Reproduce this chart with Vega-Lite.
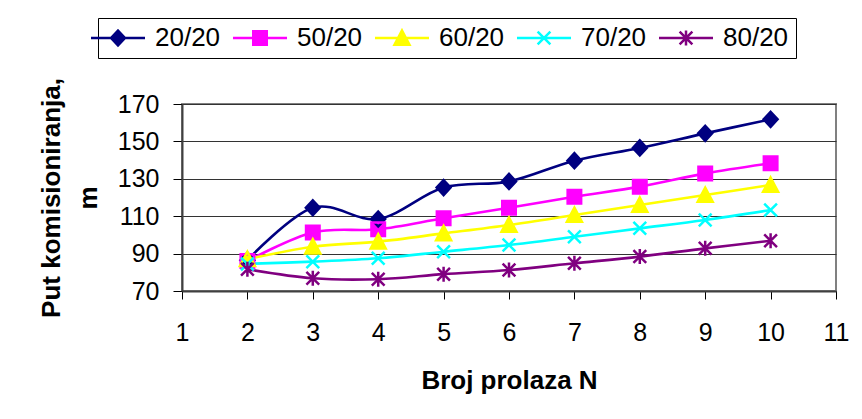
{
  "$schema": "https://vega.github.io/schema/vega-lite/v6.json",
  "width": 654,
  "height": 187,
  "autosize": {"type": "none"},
  "padding": {"left": 182, "top": 104, "right": 26, "bottom": 128},
  "background": "white",
  "config": {
    "font": "Liberation Sans",
    "view": {"stroke": "#808080", "strokeWidth": 2}
  },
  "data": {
    "values": [
      {"n": 2, "s": "20/20", "v": 86.5}, {"n": 3, "s": "20/20", "v": 114.5}, {"n": 4, "s": "20/20", "v": 108.5},
      {"n": 5, "s": "20/20", "v": 125.3}, {"n": 6, "s": "20/20", "v": 128.6}, {"n": 7, "s": "20/20", "v": 139.7},
      {"n": 8, "s": "20/20", "v": 146.5}, {"n": 9, "s": "20/20", "v": 154.3}, {"n": 10, "s": "20/20", "v": 161.8},
      {"n": 2, "s": "50/20", "v": 86.0}, {"n": 3, "s": "50/20", "v": 101.3}, {"n": 4, "s": "50/20", "v": 103.0},
      {"n": 5, "s": "50/20", "v": 108.9}, {"n": 6, "s": "50/20", "v": 114.5}, {"n": 7, "s": "50/20", "v": 120.4},
      {"n": 8, "s": "50/20", "v": 125.8}, {"n": 9, "s": "50/20", "v": 132.9}, {"n": 10, "s": "50/20", "v": 138.3},
      {"n": 2, "s": "60/20", "v": 87.0}, {"n": 3, "s": "60/20", "v": 93.7}, {"n": 4, "s": "60/20", "v": 96.4},
      {"n": 5, "s": "60/20", "v": 100.8}, {"n": 6, "s": "60/20", "v": 105.3}, {"n": 7, "s": "60/20", "v": 110.6},
      {"n": 8, "s": "60/20", "v": 116.0}, {"n": 9, "s": "60/20", "v": 121.3}, {"n": 10, "s": "60/20", "v": 126.7},
      {"n": 2, "s": "70/20", "v": 84.5}, {"n": 3, "s": "70/20", "v": 85.7}, {"n": 4, "s": "70/20", "v": 87.5},
      {"n": 5, "s": "70/20", "v": 91.0}, {"n": 6, "s": "70/20", "v": 94.6}, {"n": 7, "s": "70/20", "v": 99.0},
      {"n": 8, "s": "70/20", "v": 103.5}, {"n": 9, "s": "70/20", "v": 108.0}, {"n": 10, "s": "70/20", "v": 113.3},
      {"n": 2, "s": "80/20", "v": 81.6}, {"n": 3, "s": "80/20", "v": 76.8}, {"n": 4, "s": "80/20", "v": 76.3},
      {"n": 5, "s": "80/20", "v": 79.0}, {"n": 6, "s": "80/20", "v": 81.2}, {"n": 7, "s": "80/20", "v": 84.8},
      {"n": 8, "s": "80/20", "v": 88.4}, {"n": 9, "s": "80/20", "v": 92.8}, {"n": 10, "s": "80/20", "v": 96.9}
    ]
  },
  "encoding": {
    "x": {
      "field": "n", "type": "quantitative",
      "scale": {"domain": [1, 11], "nice": false, "zero": false},
      "axis": {
        "values": [1, 2, 3, 4, 5, 6, 7, 8, 9, 10, 11],
        "format": "d",
        "title": "Broj prolaza N",
        "titleFont": "Liberation Sans", "titleFontSize": 26, "titleFontWeight": "bold", "titleColor": "black",
        "titleBaseline": "alphabetic", "titleY": 97,
        "labelFont": "Liberation Sans", "labelFontSize": 25, "labelColor": "black", "labelPadding": 21,
        "labelFlush": false, "labelOverlap": false,
        "tickSize": 8, "tickColor": "black", "tickWidth": 1,
        "domainColor": "#404040", "domainWidth": 2,
        "grid": false
      }
    },
    "y": {
      "field": "v", "type": "quantitative",
      "scale": {"domain": [70, 170], "nice": false, "zero": false},
      "axis": {
        "values": [70, 90, 110, 130, 150, 170],
        "title": ["Put komisioniranja,", "m"],
        "titleFont": "Liberation Sans", "titleFontSize": 26, "titleFontWeight": "bold", "titleColor": "black",
        "titleBaseline": "alphabetic", "titleAlign": "center", "titleAngle": -90,
        "titleX": -123, "titleY": 93.5, "titleLineHeight": 37,
        "labelFont": "Liberation Sans", "labelFontSize": 25, "labelColor": "black", "labelPadding": 14,
        "labelFlush": false, "labelOverlap": false,
        "tickSize": 9, "tickColor": "black", "tickWidth": 1,
        "domainColor": "#404040", "domainWidth": 2,
        "grid": true, "gridColor": "#333333", "gridWidth": 1
      }
    }
  },
  "resolve": {"scale": {"shape": "independent", "fill": "independent", "stroke": "independent"}},
  "layer": [
    {
      "mark": {"type": "line", "interpolate": "cardinal", "tension": 0, "strokeWidth": 2.6},
      "encoding": {
        "color": {
          "field": "s", "type": "nominal", "legend": null,
          "scale": {"domain": ["20/20", "50/20", "60/20", "70/20", "80/20"], "range": ["#000080", "#FF00FF", "#FFFF00", "#00FFFF", "#800080"]}
        }
      }
    },
    {
      "mark": {"type": "point", "filled": true, "size": 225, "opacity": 1},
      "encoding": {
        "color": {"field": "s", "type": "nominal", "legend": null},
        "shape": {
          "field": "s", "type": "nominal", "legend": null,
          "scale": {
            "domain": ["20/20", "50/20", "60/20", "70/20", "80/20"],
            "range": [
              "M0,-1L0.93,0L0,1L-0.93,0Z",
              "M-0.9,-0.9L0.9,-0.9L0.9,0.9L-0.9,0.9Z",
              "M0,-1L1,0.9L-1,0.9Z",
              "M-0.85,-0.85L0.85,0.85M-0.85,0.85L0.85,-0.85",
              "M-0.85,-0.85L0.85,0.85M-0.85,0.85L0.85,-0.85M0,-1L0,1"
            ]
          }
        }
      }
    },
    {
      "mark": {"type": "point", "filled": false, "size": 225, "opacity": 1, "strokeWidth": 2.5},
      "encoding": {
        "color": {"field": "s", "type": "nominal", "legend": null},
        "shape": {
          "field": "s", "type": "nominal", "legend": null,
          "scale": {
            "domain": ["20/20", "50/20", "60/20", "70/20", "80/20"],
            "range": [
              "M0,-1L0.93,0L0,1L-0.93,0Z",
              "M-0.9,-0.9L0.9,-0.9L0.9,0.9L-0.9,0.9Z",
              "M0,-1L1,0.9L-1,0.9Z",
              "M-0.85,-0.85L0.85,0.85M-0.85,0.85L0.85,-0.85",
              "M-0.85,-0.85L0.85,0.85M-0.85,0.85L0.85,-0.85M0,-1L0,1"
            ]
          }
        }
      }
    },
    {
      "mark": {"type": "point", "size": 225, "opacity": 0, "strokeWidth": 2.5},
      "encoding": {
        "fill": {
          "field": "s", "type": "nominal",
          "scale": {"domain": ["20/20", "50/20", "60/20", "70/20", "80/20"], "range": ["#000080", "#FF00FF", "#FFFF00", "#00FFFF", "#800080"]},
          "legend": {
            "orient": "none", "legendX": -84, "legendY": -86,
            "direction": "horizontal", "columns": 5, "title": null,
            "labelFont": "Liberation Sans", "labelFontSize": 26, "labelColor": "black",
            "labelOffset": 24, "columnPadding": 7, "padding": 7, "labelLimit": 0,
            "strokeColor": "black", "fillColor": "white",
            "symbolSize": 225, "symbolStrokeWidth": 2.5, "symbolOpacity": 1
          }
        },
        "stroke": {
          "field": "s", "type": "nominal",
          "scale": {"domain": ["20/20", "50/20", "60/20", "70/20", "80/20"], "range": ["#000080", "#FF00FF", "#FFFF00", "#00FFFF", "#800080"]},
          "legend": {
            "orient": "none", "legendX": -84, "legendY": -86,
            "direction": "horizontal", "columns": 5, "title": null,
            "labelFont": "Liberation Sans", "labelFontSize": 26, "labelColor": "black",
            "labelOffset": 24, "columnPadding": 7, "padding": 7, "labelLimit": 0,
            "strokeColor": "black", "fillColor": "white",
            "symbolSize": 225, "symbolStrokeWidth": 2.5, "symbolOpacity": 1
          }
        },
        "shape": {
          "field": "s", "type": "nominal",
          "scale": {
            "domain": ["20/20", "50/20", "60/20", "70/20", "80/20"],
            "range": [
              "M-3.6,0L3.6,0M0,-1L0.93,0L0,1L-0.93,0Z",
              "M-3.6,0L3.6,0M-0.9,-0.9L0.9,-0.9L0.9,0.9L-0.9,0.9Z",
              "M-3.6,0L3.6,0M0,-1L1,0.9L-1,0.9Z",
              "M-3.6,0L3.6,0M-0.85,-0.85L0.85,0.85M-0.85,0.85L0.85,-0.85",
              "M-3.6,0L3.6,0M-0.85,-0.85L0.85,0.85M-0.85,0.85L0.85,-0.85M0,-1L0,1"
            ]
          },
          "legend": {
            "orient": "none", "legendX": -84, "legendY": -86,
            "direction": "horizontal", "columns": 5, "title": null,
            "labelFont": "Liberation Sans", "labelFontSize": 26, "labelColor": "black",
            "labelOffset": 24, "columnPadding": 7, "padding": 7, "labelLimit": 0,
            "strokeColor": "black", "fillColor": "white",
            "symbolSize": 225, "symbolStrokeWidth": 2.5, "symbolOpacity": 1
          }
        }
      }
    }
  ]
}
